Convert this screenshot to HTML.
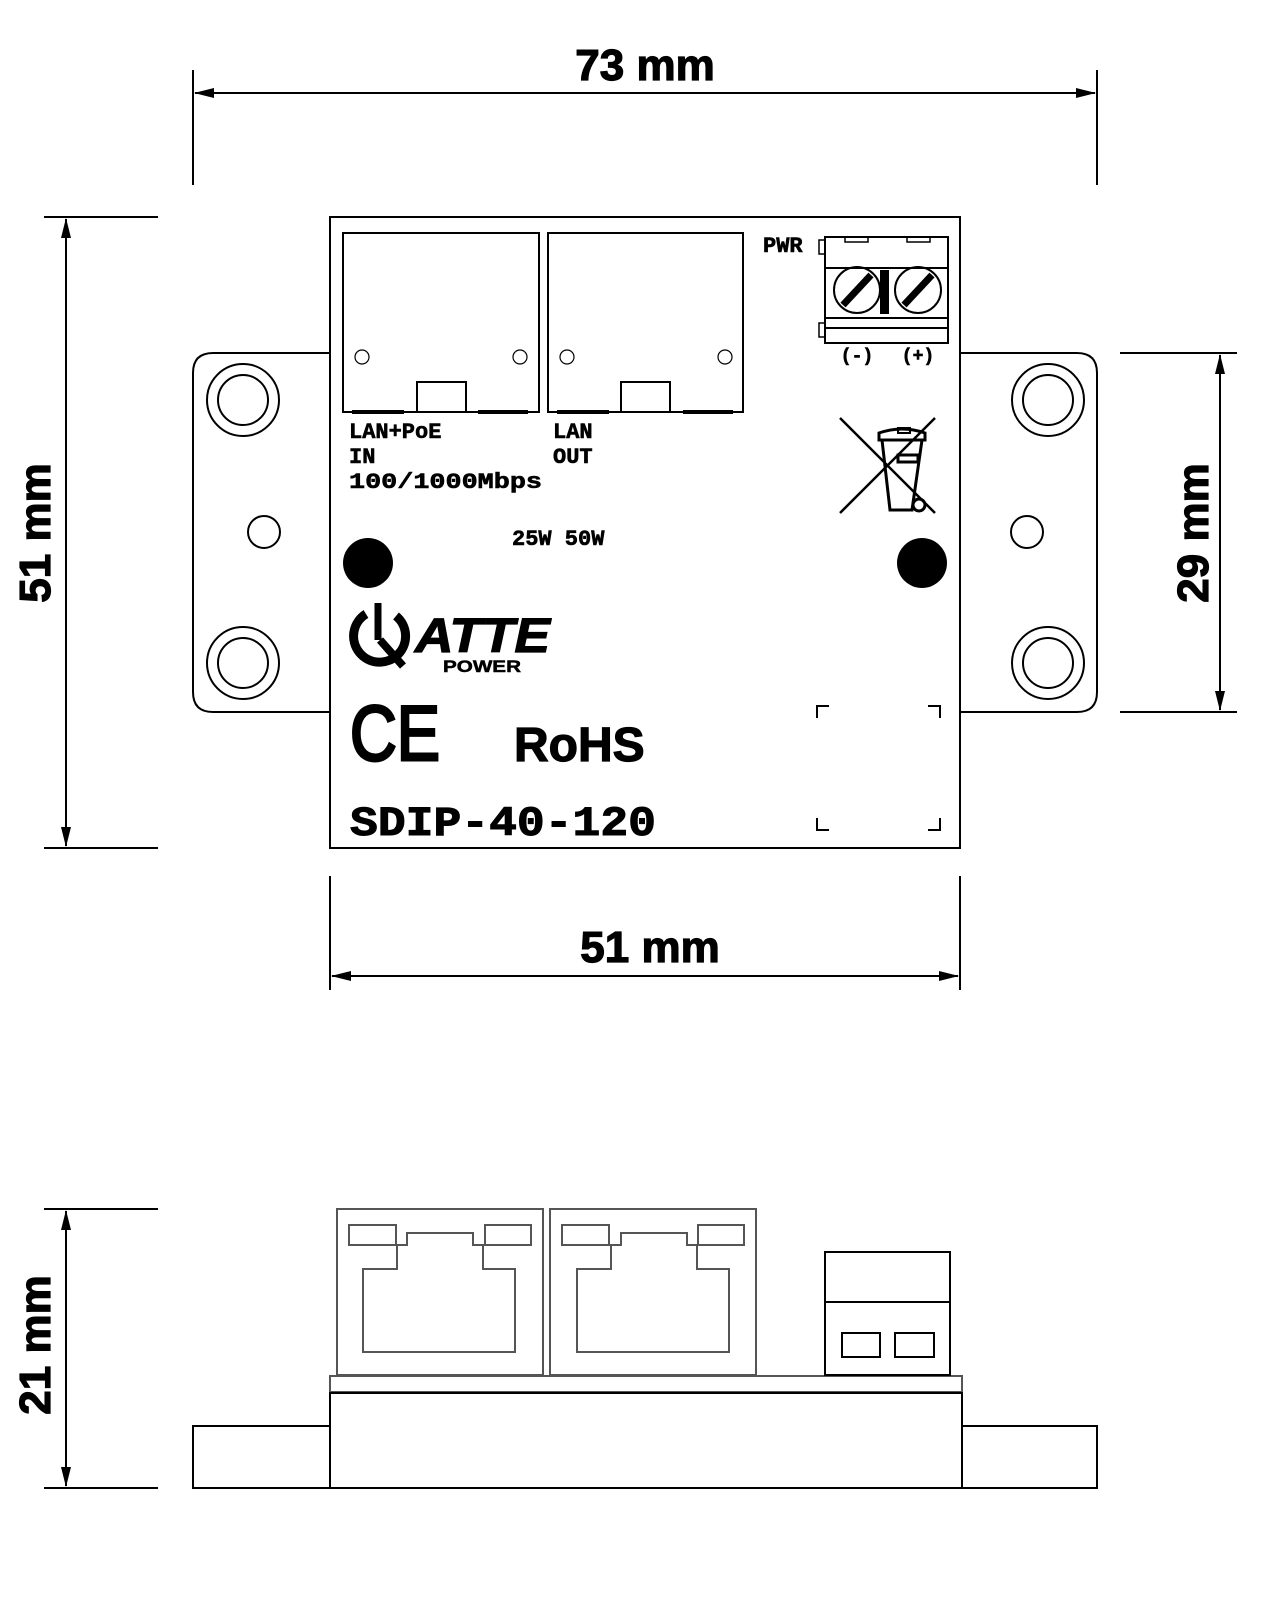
<!DOCTYPE html>
<html><head><meta charset="utf-8"><style>html,body{margin:0;padding:0;background:#fff}svg{display:block}</style></head>
<body>
<svg width="1265" height="1600" viewBox="0 0 1265 1600" xmlns="http://www.w3.org/2000/svg">
<defs>
<marker id="a" viewBox="0 0 20 10" refX="19" refY="5" markerWidth="20" markerHeight="10" markerUnits="userSpaceOnUse" orient="auto-start-reverse"><path d="M0,0 L20,5 L0,10 Z" fill="#000"/></marker>
</defs>
<g fill="none" stroke="#000" stroke-width="2">
<line x1="193" y1="70" x2="193" y2="185"/><line x1="1097" y1="70" x2="1097" y2="185"/>
<line x1="195" y1="93" x2="1095" y2="93" marker-start="url(#a)" marker-end="url(#a)"/>
<line x1="44" y1="217" x2="158" y2="217"/><line x1="44" y1="848" x2="158" y2="848"/>
<line x1="66" y1="219" x2="66" y2="846" marker-start="url(#a)" marker-end="url(#a)"/>
<line x1="1120" y1="353" x2="1237" y2="353"/><line x1="1120" y1="712" x2="1237" y2="712"/>
<line x1="1220" y1="355" x2="1220" y2="710" marker-start="url(#a)" marker-end="url(#a)"/>
<line x1="330" y1="876" x2="330" y2="990"/><line x1="960" y1="876" x2="960" y2="990"/>
<line x1="332" y1="976" x2="958" y2="976" marker-start="url(#a)" marker-end="url(#a)"/>
<path d="M330,353 H213 Q193,353 193,373 V692 Q193,712 213,712 H330"/>
<path d="M960,353 H1077 Q1097,353 1097,373 V692 Q1097,712 1077,712 H960"/>
<circle cx="243" cy="400" r="36"/><circle cx="243" cy="400" r="25"/>
<circle cx="243" cy="663" r="36"/><circle cx="243" cy="663" r="25"/>
<circle cx="264" cy="532" r="16"/>
<circle cx="1048" cy="400" r="36"/><circle cx="1048" cy="400" r="25"/>
<circle cx="1048" cy="663" r="36"/><circle cx="1048" cy="663" r="25"/>
<circle cx="1027" cy="532" r="16"/>
<rect x="330" y="217" width="630" height="631"/>
<rect x="343" y="233" width="196" height="179"/>
<rect x="548" y="233" width="195" height="179"/>
<g stroke-width="1.2"><circle cx="362" cy="357" r="7"/><circle cx="520" cy="357" r="7"/>
<circle cx="567" cy="357" r="7"/><circle cx="725" cy="357" r="7"/></g>
<rect x="417" y="382" width="49" height="30"/><rect x="621" y="382" width="49" height="30"/>
<g stroke-width="4"><line x1="352" y1="412" x2="404" y2="412"/><line x1="478" y1="412" x2="528" y2="412"/>
<line x1="557" y1="412" x2="609" y2="412"/><line x1="683" y1="412" x2="733" y2="412"/></g>
<rect x="825" y="237" width="123" height="106"/>
<line x1="825" y1="268" x2="948" y2="268"/><line x1="825" y1="318" x2="948" y2="318"/><line x1="825" y1="328" x2="948" y2="328"/>
<rect x="845" y="237" width="23" height="5" stroke-width="1.5"/><rect x="907" y="237" width="23" height="5" stroke-width="1.5"/>
<rect x="819" y="240" width="6" height="14" stroke-width="1.5"/><rect x="819" y="323" width="6" height="14" stroke-width="1.5"/>
<circle cx="857" cy="290" r="23"/><circle cx="918" cy="290" r="23"/>
<line x1="843" y1="305" x2="871" y2="275" stroke-width="7"/><line x1="904" y1="305" x2="932" y2="275" stroke-width="7"/>
<path d="M817,718 V706 H829 M928,706 H940 V718 M817,818 V830 H829 M928,830 H940 V818"/>
<line x1="840" y1="418" x2="935" y2="513" stroke-width="2.5"/><line x1="935" y1="418" x2="840" y2="513" stroke-width="2.5"/>
<path d="M882,440 L890,510 H912 L922,440 Z" stroke-width="3"/>
<path d="M879,440 H925 V433 Q902,425 879,433 Z" stroke-width="3"/>
<rect x="898" y="428" width="12" height="5" stroke-width="2"/>
<rect x="898" y="455" width="20" height="7" stroke-width="3"/>
<circle cx="919" cy="505" r="6" stroke-width="3"/>
<g stroke="#555" stroke-width="2">
<rect x="337" y="1209" width="206" height="166"/>
<rect x="550" y="1209" width="206" height="166"/>
<rect x="349" y="1225" width="47" height="20"/><rect x="485" y="1225" width="46" height="20"/>
<rect x="562" y="1225" width="47" height="20"/><rect x="698" y="1225" width="46" height="20"/>
<path d="M363,1269 H397 V1245 H407 V1233 H473 V1245 H483 V1269 H515 V1352 H363 Z"/>
<path d="M577,1269 H611 V1245 H621 V1233 H687 V1245 H697 V1269 H729 V1352 H577 Z"/>
<rect x="330" y="1376" width="632" height="16"/>
</g>
<rect x="825" y="1252" width="125" height="123"/>
<line x1="825" y1="1302" x2="950" y2="1302"/>
<rect x="842" y="1333" width="38" height="24"/><rect x="895" y="1333" width="39" height="24"/>
<rect x="330" y="1393" width="632" height="95"/>
<path d="M330,1426 H193 V1488 H330 M962,1426 H1097 V1488 H962"/>
<line x1="44" y1="1209" x2="158" y2="1209"/><line x1="44" y1="1488" x2="158" y2="1488"/>
<line x1="66" y1="1211" x2="66" y2="1486" marker-start="url(#a)" marker-end="url(#a)"/>
</g>
<circle cx="368" cy="563" r="25" fill="#000"/><circle cx="922" cy="563" r="25" fill="#000"/>
<rect x="880" y="270" width="9" height="44" fill="#000"/>
<g fill="none" stroke="#000">
<path d="M366,614 A26,26 0 1 0 396,616" stroke-width="9"/>
<line x1="378" y1="603" x2="378" y2="640" stroke-width="7"/>
<path d="M380,640 L403,666" stroke-width="8"/>
</g>
<g font-family="Liberation Sans, DejaVu Sans, sans-serif" font-weight="bold" fill="#000" stroke="#000" stroke-width="1.2">
<text x="645" y="80" font-size="44" text-anchor="middle">73 mm</text>
<text x="650" y="962" font-size="44" text-anchor="middle">51 mm</text>
<text transform="translate(50,533) rotate(-90)" font-size="44" text-anchor="middle">51 mm</text>
<text transform="translate(1208,533) rotate(-90)" font-size="44" text-anchor="middle">29 mm</text>
<text transform="translate(50,1345) rotate(-90)" font-size="44" text-anchor="middle">21 mm</text>
<text x="514" y="761" font-size="48">RoHS</text>
<text x="415" y="652" font-size="48" font-style="italic" textLength="135" lengthAdjust="spacingAndGlyphs">ATTE</text>
<text x="443" y="672" font-size="17" stroke-width="0.5" textLength="78" lengthAdjust="spacingAndGlyphs">POWER</text>
</g>
<text x="350" y="760" font-family="Liberation Sans, sans-serif" font-size="78" stroke="#000" stroke-width="3" textLength="90" lengthAdjust="spacingAndGlyphs">CE</text>
<g font-family="Liberation Mono, DejaVu Sans Mono, monospace" font-weight="bold" fill="#000" stroke="#000" stroke-width="0.6">
<text x="349" y="438" font-size="22">LAN+PoE</text>
<text x="349" y="463" font-size="22">IN</text>
<text x="349" y="488" font-size="22" textLength="193" lengthAdjust="spacingAndGlyphs">100/1000Mbps</text>
<text x="553" y="438" font-size="22">LAN</text>
<text x="553" y="463" font-size="22">OUT</text>
<text x="512" y="545" font-size="22">25W 50W</text>
<text x="763" y="252" font-size="22">PWR</text>
<text x="857" y="361" font-size="18" text-anchor="middle">(-)</text>
<text x="918" y="361" font-size="18" text-anchor="middle">(+)</text>
<text x="350" y="835" font-size="42" stroke-width="1" textLength="306" lengthAdjust="spacingAndGlyphs">SDIP-40-120</text>
</g>
</svg>
</body></html>
